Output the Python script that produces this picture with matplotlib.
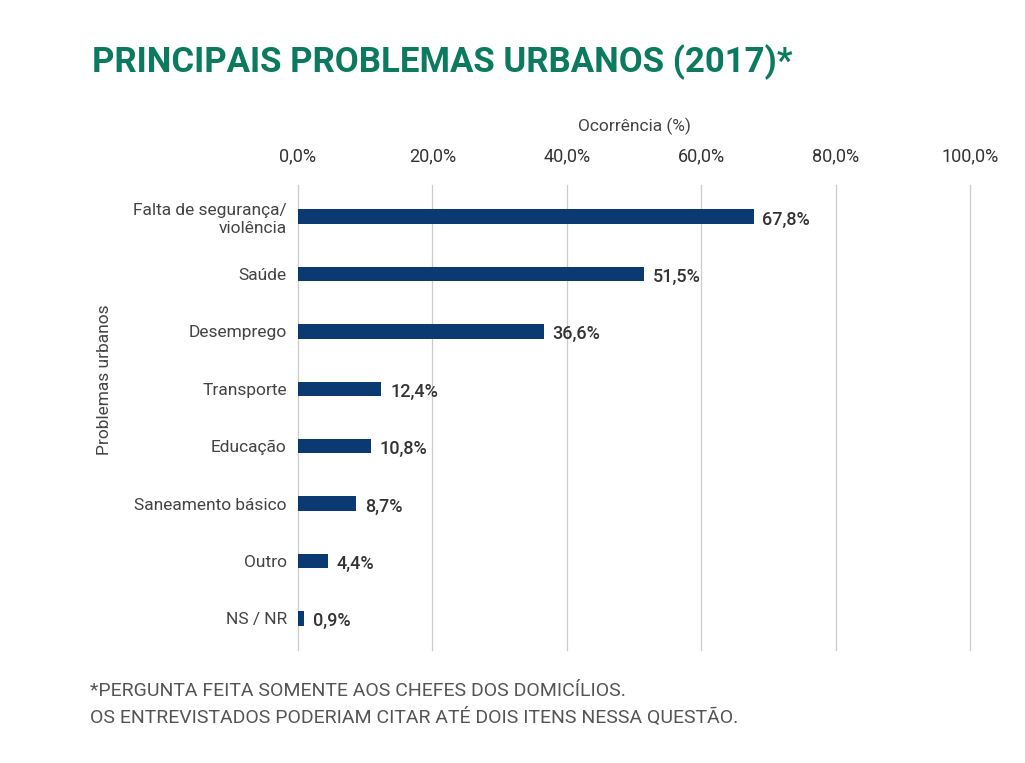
import matplotlib
matplotlib.use("Agg")
import matplotlib.pyplot as plt

categories = ["Falta de segurança/\nviolência", "Saúde", "Desemprego", "Transporte",
              "Educação", "Saneamento básico", "Outro", "NS / NR"]
values = [67.8, 51.5, 36.6, 12.4, 10.8, 8.7, 4.4, 0.9]
ticks = [0, 20, 40, 60, 80, 100]

plt.rcParams['font.family'] = ['Roboto', 'DejaVu Sans']
fig = plt.figure(figsize=(10.25, 7.63), dpi=100)
ax = fig.add_axes([0.2907, 0.148, 0.6556, 0.6095])
y = list(range(len(categories)))
ax.barh(y, values, height=0.25, color="#0b3a73", zorder=3)
ax.set_xlim(0, 100)
ax.set_ylim(7.55, -0.55)
ax.set_xticks(ticks)
ax.set_xticklabels([f"{t:.1f}%".replace(".", ",") for t in ticks], fontsize=13, color="#333333")
ax.xaxis.tick_top()
ax.tick_params(axis='x', length=0, pad=14)
ax.tick_params(axis='y', length=0, pad=8)
ax.set_yticks(y)
ax.set_yticklabels(categories, fontsize=12.5, color="#444444")
for t in ticks:
    ax.axvline(t, color="#cccccc", lw=0.9, zorder=0, clip_on=False)
for s in ax.spines.values():
    s.set_visible(False)
for yi, v in zip(y, values):
    ax.text(v + 1.3, yi + 0.05, f"{v:.1f}%".replace(".", ","), va='center', ha='left',
            fontsize=13, color="#333333", fontweight='medium')
ax.set_xlabel("Ocorrência (%)", fontsize=12.5, color="#444444", labelpad=12)
ax.xaxis.set_label_position('top')
fig.text(0.095, 1 - 380/763, "Problemas urbanos", rotation=90, fontsize=12.5,
         color="#444444", va='center', ha='left')
fig.text(0.09, 1 - 62/763, "PRINCIPAIS PROBLEMAS URBANOS (2017)*", fontsize=25,
         fontweight='bold', color="#0b7a5f", va='center', ha='left')
fig.text(0.088, 1 - 691/763, "*PERGUNTA FEITA SOMENTE AOS CHEFES DOS DOMICÍLIOS.",
         fontsize=14, color="#555555", va='center', ha='left')
fig.text(0.088, 1 - 717/763, "OS ENTREVISTADOS PODERIAM CITAR ATÉ DOIS ITENS NESSA QUESTÃO.",
         fontsize=14, color="#555555", va='center', ha='left')
fig.savefig("out.png", dpi=100, facecolor="white")
